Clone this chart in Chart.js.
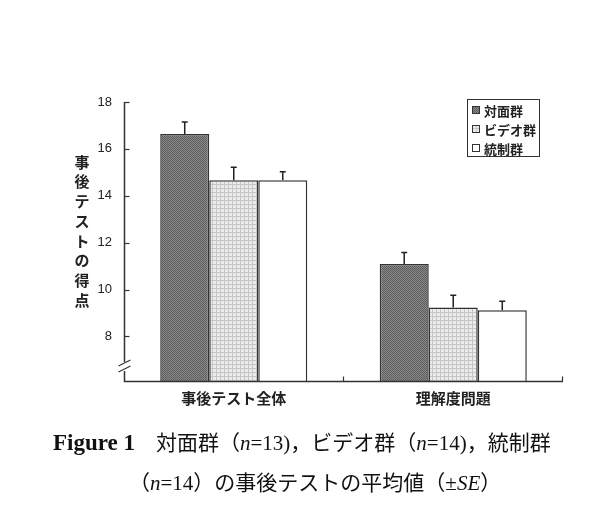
<!DOCTYPE html>
<html><head><meta charset="utf-8">
<script src="https://cdn.jsdelivr.net/npm/chart.js@4/dist/chart.umd.min.js"></script>
<style>
html,body{margin:0;padding:0;background:#fff;}
#wrap{position:relative;width:614px;height:529px;}
#c{position:absolute;left:0;top:0;}
.cap{position:absolute;font-family:"Liberation Serif","Noto Sans CJK JP",serif;font-size:21px;line-height:24px;color:#111;white-space:nowrap;}
.cap b{font-weight:bold;font-size:23px;}
</style></head><body>
<div id="wrap">
<canvas id="c" width="614" height="529"></canvas>
<div class="cap" id="cap1" style="left:53px;top:431px;"><b>Figure 1</b>　対面群（<i>n</i>=13)，ビデオ群（<i>n</i>=14)，統制群</div>
<div class="cap" id="cap2" style="left:129px;top:471px;">（<i>n</i>=14）の事後テストの平均値（±<i>SE</i>）</div>
</div>
<script>
const categories = ["事後テスト全体", "理解度問題"];
const seriesNames = ["対面群", "ビデオ群", "統制群"];
const faceMeans = [16.63, 11.09];
const videoMeans = [14.66, 9.23];
const controlMeans = [14.66, 9.12];
const faceSE = [0.52, 0.49];
const videoSE = [0.56, 0.53];
const controlSE = [0.36, 0.38];
const yTicks = [8, 10, 12, 14, 16, 18];
const yTitle = "事後テストの得点";

function makePattern(base, dot, kind) {
  const t = document.createElement('canvas');
  t.width = 4; t.height = 4;
  const g = t.getContext('2d');
  g.fillStyle = base; g.fillRect(0, 0, 4, 4);
  g.fillStyle = dot;
  if (kind === 'check') {
    for (let y = 0; y < 4; y++) for (let x = 0; x < 4; x++) if ((x + y) % 2 === 0) g.fillRect(x, y, 1, 1);
  } else {
    g.fillRect(0, 0, 4, 1); g.fillRect(0, 0, 1, 4);
  }
  return g.createPattern(t, 'repeat');
}
const darkFill = makePattern('#8a8a8a', '#5c5c5c', 'check');
const lightFill = makePattern('#ececec', '#c6c6c6', 'grid');
const fills = [darkFill, lightFill, '#ffffff'];
const ses = [faceSE, videoSE, controlSE];

const overlay = {
  id: 'overlay',
  afterDatasetsDraw(chart) {
    const ctx = chart.ctx;
    const ca = chart.chartArea;
    const y = chart.scales.y;
    ctx.save();
    // error bars
    ctx.strokeStyle = '#222'; ctx.lineWidth = 1.5;
    chart.data.datasets.forEach((ds, di) => {
      const meta = chart.getDatasetMeta(di);
      meta.data.forEach((bar, i) => {
        const top = y.getPixelForValue(ds.data[i] + ses[di][i]);
        ctx.beginPath();
        ctx.moveTo(bar.x, bar.y); ctx.lineTo(bar.x, top);
        ctx.moveTo(bar.x - 3, top); ctx.lineTo(bar.x + 3, top);
        ctx.stroke();
      });
    });
    // axes
    ctx.strokeStyle = '#333'; ctx.lineWidth = 1.5;
    const L = Math.round(ca.left) + 0.5;
    const B = Math.round(ca.bottom) + 0.5;
    ctx.beginPath();
    ctx.moveTo(L, ca.top); ctx.lineTo(L, 362);
    ctx.moveTo(L, 371); ctx.lineTo(L, B); ctx.lineTo(ca.right, B);
    ctx.stroke();
    // break marks
    ctx.lineWidth = 1.2;
    ctx.beginPath();
    ctx.moveTo(L - 6, 366); ctx.lineTo(L + 6, 360);
    ctx.moveTo(L - 6, 372); ctx.lineTo(L + 6, 366);
    ctx.stroke();
    // y ticks inward
    yTicks.forEach(v => {
      const py = Math.round(y.getPixelForValue(v)) + 0.5;
      ctx.beginPath(); ctx.moveTo(L, py); ctx.lineTo(L + 5, py); ctx.stroke();
    });
    // x ticks at category boundaries, upward
    const n = categories.length;
    for (let i = 1; i <= n; i++) {
      const px = Math.round(ca.left + (ca.right - ca.left) * i / n) - 0.5;
      ctx.beginPath(); ctx.moveTo(px, B); ctx.lineTo(px, B - 5); ctx.stroke();
    }
    // y title stacked
    ctx.fillStyle = '#222';
    ctx.font = 'bold 15px "Noto Sans CJK JP"';
    ctx.textAlign = 'center'; ctx.textBaseline = 'middle';
    Array.from(yTitle).forEach((ch, k) => ctx.fillText(ch, 82, 162 + k * 19.7));
    // legend
    const lx = 467.5, ly = 99.5, lw = 72, lh = 57;
    ctx.fillStyle = '#fff'; ctx.fillRect(lx, ly, lw, lh);
    ctx.strokeStyle = '#333'; ctx.lineWidth = 1;
    ctx.strokeRect(lx, ly, lw, lh);
    ctx.font = 'bold 13px "Noto Sans CJK JP"';
    ctx.textAlign = 'left';
    seriesNames.forEach((nm, k) => {
      const cy = 110 + k * 19;
      ctx.fillStyle = fills[k];
      ctx.fillRect(472.5, cy - 3.5, 7, 7);
      ctx.strokeStyle = '#333';
      ctx.strokeRect(472.5, cy - 3.5, 7, 7);
      ctx.fillStyle = '#222';
      ctx.fillText(nm, 484, cy + 1);
    });
    ctx.restore();
  }
};

new Chart(document.getElementById('c'), {
  type: 'bar',
  data: {
    labels: categories,
    datasets: [
      { label: seriesNames[0], data: faceMeans, backgroundColor: darkFill },
      { label: seriesNames[1], data: videoMeans, backgroundColor: lightFill },
      { label: seriesNames[2], data: controlMeans, backgroundColor: '#ffffff' }
    ]
  },
  options: {
    responsive: false,
    animation: false,
    devicePixelRatio: 1,
    layout: { padding: { top: 102, right: 51, left: 0, bottom: 0 } },
    datasets: { bar: { borderColor: '#333', borderWidth: 1.5, categoryPercentage: 0.67, barPercentage: 1.0, base: 6.1 } },
    plugins: { legend: { display: false }, tooltip: { enabled: false } },
    scales: {
      x: {
        grid: { display: false, drawTicks: false },
        border: { display: false },
        ticks: { padding: 8, color: '#222', font: { family: '"Noto Sans CJK JP"', size: 15, weight: 'bold' } },
        afterFit(s) { s.height = 148; }
      },
      y: {
        min: 6.1, max: 18,
        grid: { display: false, drawTicks: false },
        border: { display: false },
        afterBuildTicks(s) { s.ticks = yTicks.map(v => ({ value: v })); },
        ticks: { padding: 12, color: '#222', font: { family: '"Liberation Sans"', size: 13 } },
        afterFit(s) { s.width = 124; }
      }
    }
  },
  plugins: [overlay]
});
</script>
</body></html>
